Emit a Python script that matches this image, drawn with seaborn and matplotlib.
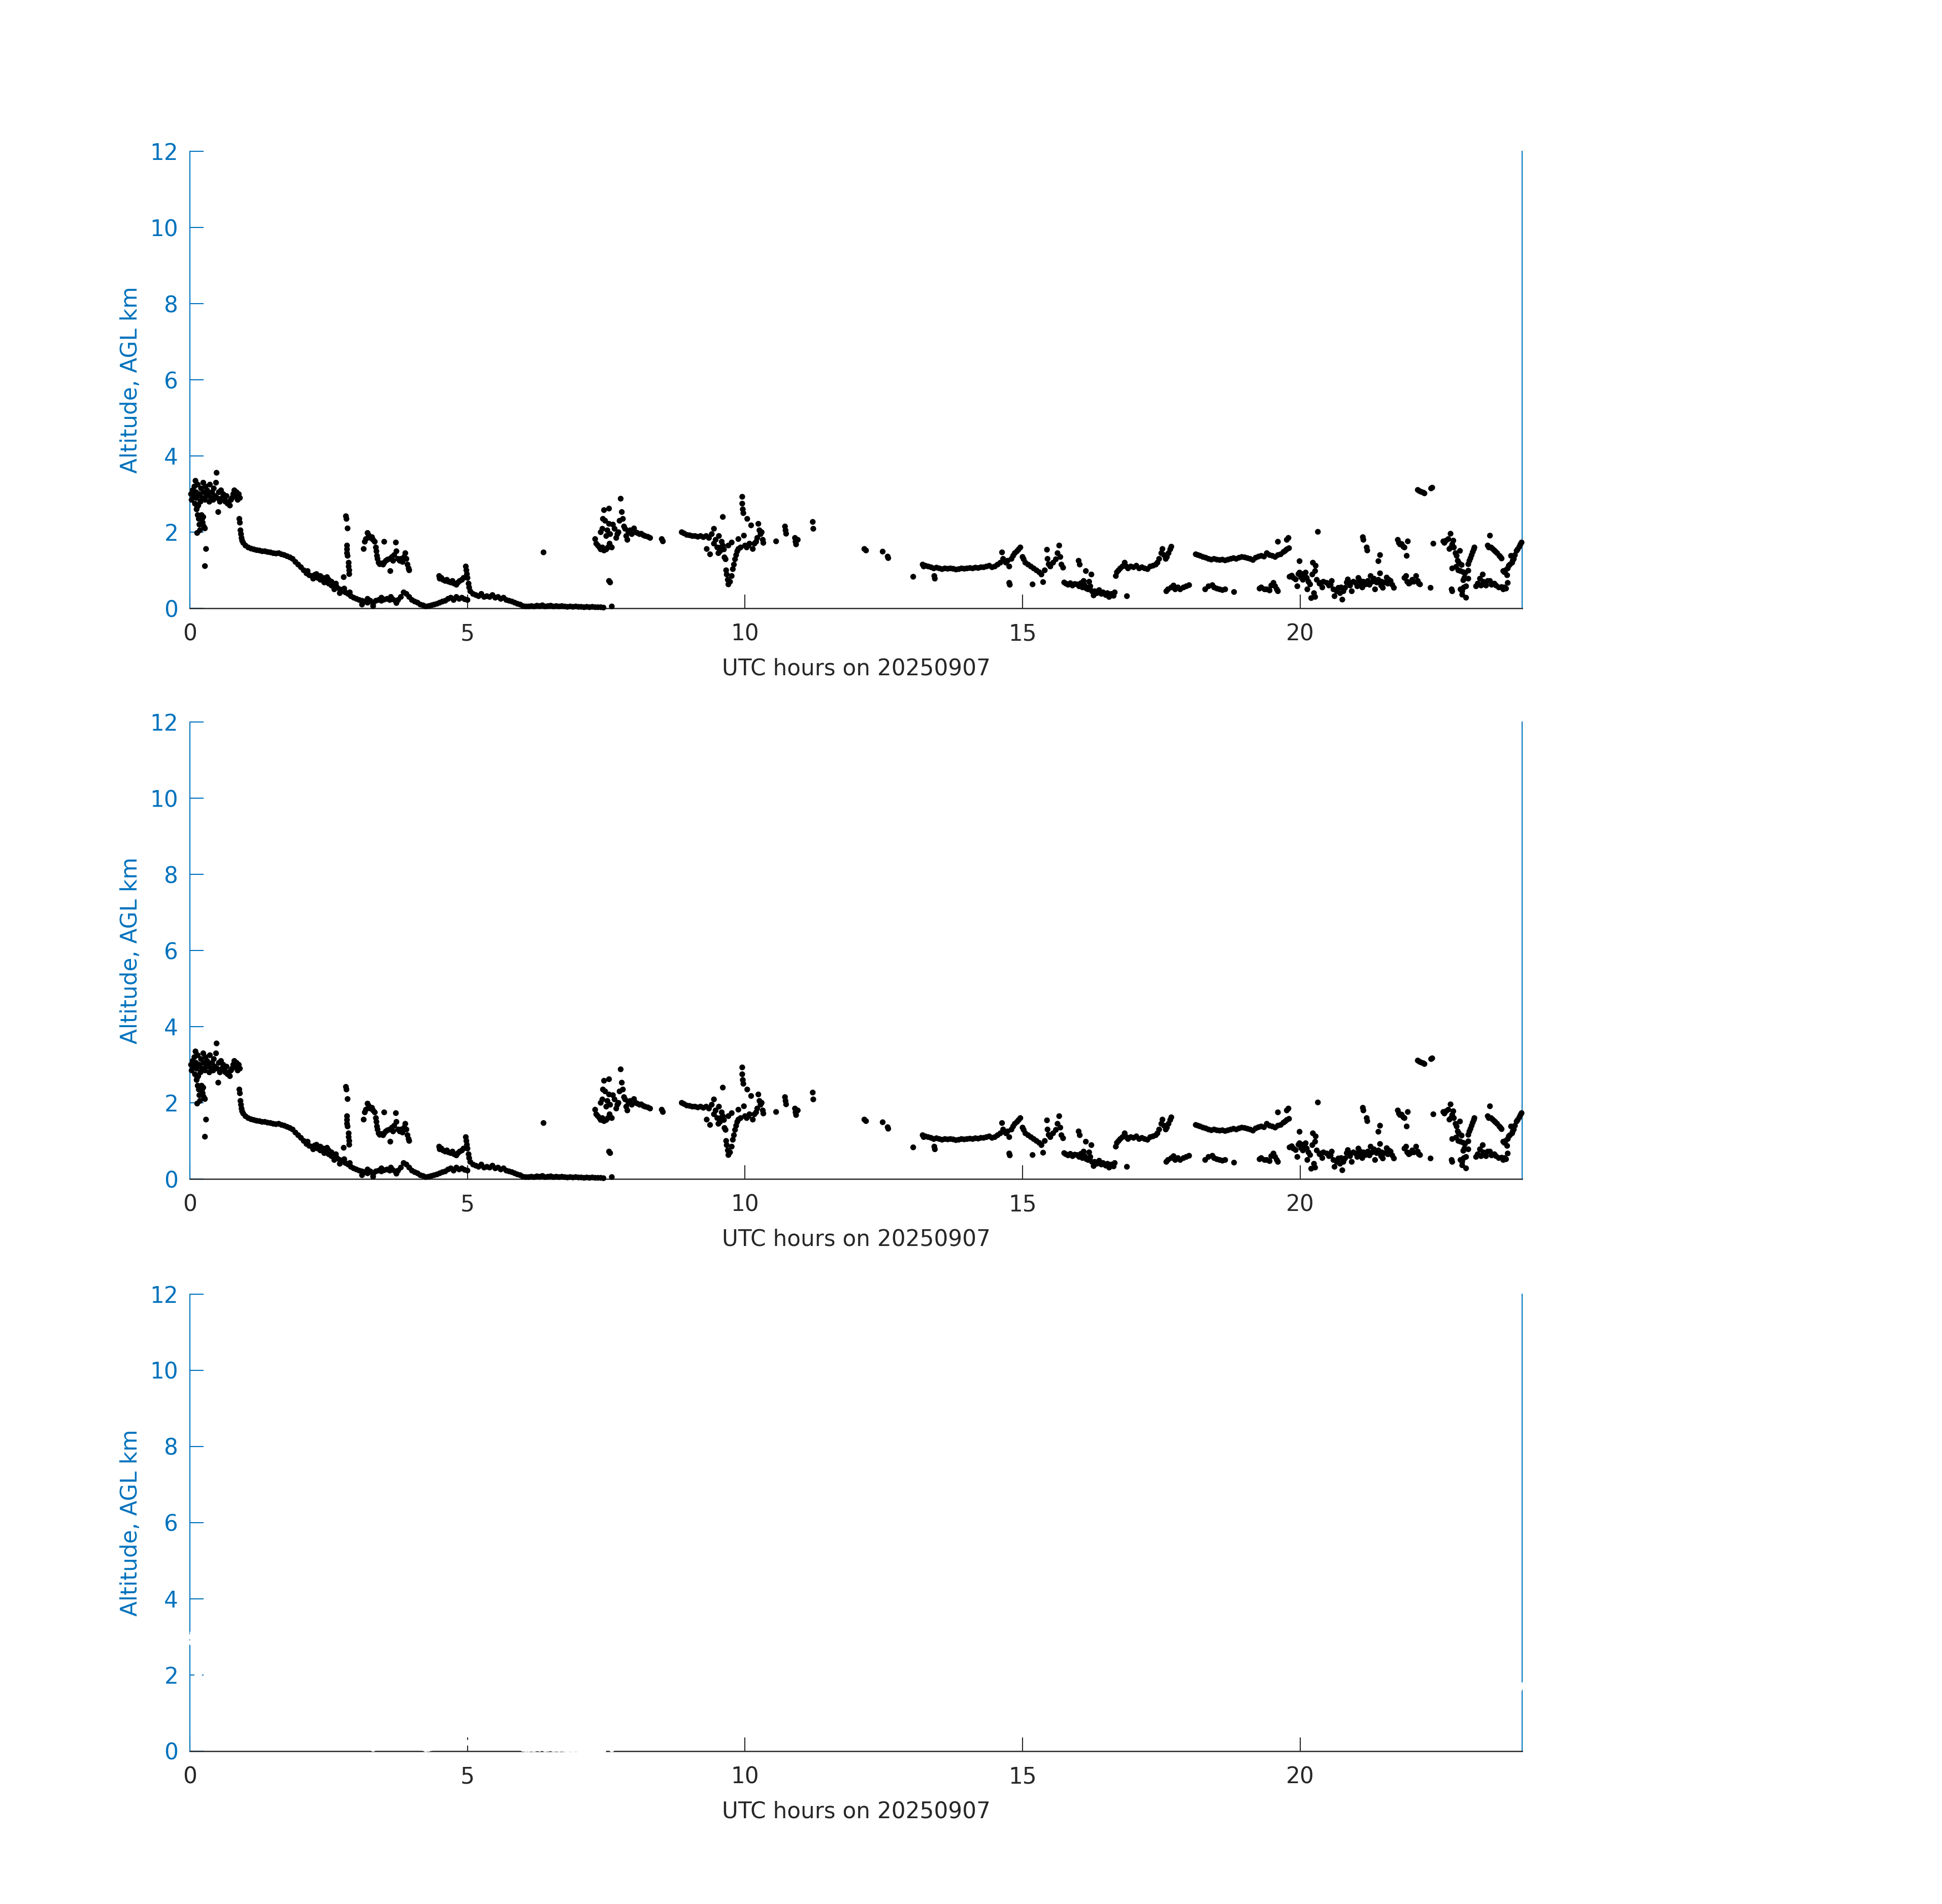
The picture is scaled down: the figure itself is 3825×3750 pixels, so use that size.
import matplotlib
matplotlib.use("Agg")
import matplotlib.pyplot as plt
import seaborn as sns
import pandas as pd

# ---------------- data: (UTC hour, altitude AGL km) ----------------
seg_early = [  # 0 - 1 h residual layer around 3 km
    (0.02, 3.0), (0.03, 2.85), (0.05, 3.1), (0.06, 2.95), (0.08, 3.2), (0.09, 2.75), (0.10, 3.35),
    (0.11, 3.05), (0.12, 2.9), (0.14, 3.25), (0.15, 2.7), (0.17, 3.0), (0.19, 2.8), (0.20, 3.15),
    (0.22, 2.9), (0.24, 3.3), (0.25, 3.05), (0.27, 2.85), (0.28, 3.2), (0.30, 2.95), (0.31, 3.1),
    (0.33, 3.0), (0.35, 2.8), (0.36, 3.25), (0.38, 2.9), (0.40, 3.05), (0.42, 2.85), (0.43, 3.15),
    (0.45, 2.95), (0.47, 3.3), (0.48, 3.56), (0.49, 2.9), (0.51, 2.53), (0.52, 3.05), (0.54, 2.8),
    (0.56, 3.1), (0.58, 2.9), (0.60, 3.0), (0.62, 2.85), (0.64, 2.8), (0.66, 2.95), (0.68, 2.75),
    (0.70, 2.8), (0.72, 2.7), (0.74, 2.85), (0.76, 2.9), (0.78, 3.0), (0.80, 3.1), (0.82, 2.95),
    (0.84, 3.05), (0.86, 2.85), (0.88, 3.0), (0.90, 2.9),
    (0.12, 2.6), (0.13, 2.66), (0.14, 2.45), (0.16, 2.35), (0.17, 2.2), (0.18, 2.05), (0.13, 1.98),
    (0.21, 2.45), (0.22, 2.35), (0.23, 2.25), (0.24, 2.4), (0.25, 2.15), (0.27, 2.1), (0.29, 1.56),
    (0.27, 1.11),
    (0.89, 2.35), (0.90, 2.25), (0.91, 2.05), (0.92, 1.95), (0.93, 1.85), (0.94, 1.78),
]

seg_boundary = [  # main descending layer 1 - 7.6 h
    (0.96, 1.72), (1.00, 1.65), (1.05, 1.6), (1.10, 1.57), (1.15, 1.55), (1.20, 1.53), (1.25, 1.52),
    (1.30, 1.5), (1.35, 1.5), (1.40, 1.48), (1.45, 1.47), (1.50, 1.45), (1.55, 1.44), (1.60, 1.45),
    (1.65, 1.42), (1.70, 1.4), (1.75, 1.37), (1.80, 1.34), (1.85, 1.3), (1.90, 1.22), (1.95, 1.15),
    (2.00, 1.08), (2.05, 1.0), (2.10, 0.92), (2.15, 0.87), (2.20, 0.85), (2.25, 0.88), (2.30, 0.8),
    (2.35, 0.75), (2.40, 0.8), (2.45, 0.72), (2.50, 0.65), (2.55, 0.6), (2.60, 0.58), (2.65, 0.55),
    (2.70, 0.5), (2.75, 0.46), (2.80, 0.42), (2.85, 0.38), (2.90, 0.32), (2.95, 0.28), (3.00, 0.25),
    (3.05, 0.22), (3.10, 0.2), (3.15, 0.18), (3.20, 0.15), (3.25, 0.2), (3.30, 0.12), (3.35, 0.2),
    (3.40, 0.22), (3.45, 0.2), (3.50, 0.23), (3.55, 0.25), (3.60, 0.22), (3.65, 0.24), (3.70, 0.2),
    (3.75, 0.22), (3.80, 0.3), (3.85, 0.42), (3.90, 0.38), (3.95, 0.3), (4.00, 0.22), (4.05, 0.18),
    (4.10, 0.15), (4.15, 0.1), (4.20, 0.08), (4.25, 0.05), (4.30, 0.06), (4.35, 0.08), (4.40, 0.1),
    (4.45, 0.12), (4.50, 0.15), (4.55, 0.18), (4.60, 0.2), (4.65, 0.25), (4.70, 0.28), (4.75, 0.22),
    (4.80, 0.3), (4.85, 0.25), (4.90, 0.28), (4.95, 0.24), (5.00, 0.22),
    (2.28, 0.9), (2.42, 0.68), (2.50, 0.75), (2.60, 0.5), (2.70, 0.4), (2.55, 0.7), (2.35, 0.85),
    (2.12, 0.98), (2.22, 0.78), (2.47, 0.82), (2.63, 0.65), (2.78, 0.52), (2.88, 0.42),
    (3.10, 0.1), (3.20, 0.25), (3.30, 0.06), (3.45, 0.28), (3.62, 0.3), (3.72, 0.14),
    (4.97, 1.1), (4.98, 1.0), (4.99, 0.9), (5.00, 0.8), (5.02, 0.65), (5.03, 0.55),
    (5.05, 0.45), (5.10, 0.38), (5.15, 0.35), (5.20, 0.32), (5.25, 0.38), (5.30, 0.3), (5.35, 0.32),
    (5.40, 0.3), (5.45, 0.35), (5.50, 0.28), (5.55, 0.3), (5.60, 0.25), (5.65, 0.28), (5.70, 0.22),
    (5.75, 0.2), (5.80, 0.18), (5.85, 0.15), (5.90, 0.12), (5.95, 0.1), (6.00, 0.06), (6.05, 0.05),
    (6.10, 0.05), (6.15, 0.06), (6.20, 0.05), (6.25, 0.07), (6.30, 0.06), (6.35, 0.08), (6.40, 0.05),
    (6.45, 0.06), (6.50, 0.07), (6.55, 0.05), (6.60, 0.06), (6.65, 0.05), (6.70, 0.06), (6.75, 0.05),
    (6.80, 0.04), (6.85, 0.05), (6.90, 0.04), (6.95, 0.05), (7.00, 0.04), (7.05, 0.04), (7.10, 0.03),
    (7.15, 0.04), (7.20, 0.03), (7.25, 0.04), (7.30, 0.03), (7.35, 0.03), (7.40, 0.03), (7.45, 0.02),
    (7.60, 0.05),
]

seg_residual = [  # upper fragments 2.8 - 5 h, and the lone point at 6.4 h
    (2.81, 2.42), (2.82, 2.35), (2.84, 2.1), (2.83, 1.65), (2.83, 1.55), (2.83, 1.45), (2.84, 1.38),
    (2.86, 1.2), (2.86, 1.1), (2.87, 1.0), (2.87, 0.9), (2.77, 0.82),
    (3.13, 1.56), (3.15, 1.75), (3.17, 1.82), (3.20, 1.98), (3.22, 1.92), (3.25, 1.85), (3.28, 1.87),
    (3.30, 1.8), (3.33, 1.75), (3.35, 1.6), (3.36, 1.5), (3.37, 1.38), (3.38, 1.3), (3.40, 1.2),
    (3.42, 1.16), (3.45, 1.18), (3.48, 1.15), (3.50, 1.2), (3.50, 1.75), (3.53, 1.25), (3.56, 1.28),
    (3.60, 1.3), (3.61, 0.98), (3.64, 1.35), (3.66, 1.25), (3.68, 1.4), (3.71, 1.73), (3.72, 1.5),
    (3.75, 1.3), (3.78, 1.25), (3.80, 1.3), (3.83, 1.22), (3.86, 1.35), (3.88, 1.45), (3.90, 1.3),
    (3.92, 1.15), (3.94, 1.05), (3.95, 1.0),
    (4.49, 0.85), (4.50, 0.78), (4.53, 0.8), (4.56, 0.75), (4.60, 0.72), (4.63, 0.75), (4.66, 0.7),
    (4.70, 0.68), (4.73, 0.72), (4.76, 0.65), (4.80, 0.62), (4.83, 0.68), (4.86, 0.72), (4.90, 0.75),
    (4.93, 0.8), (6.37, 1.47),
]

seg_morning = [  # 7.3 - 13 h
    (7.30, 1.82), (7.32, 1.7), (7.35, 1.65), (7.38, 1.6), (7.40, 1.55), (7.43, 1.6), (7.46, 1.52),
    (7.50, 1.55), (7.53, 1.6), (7.56, 1.7), (7.58, 1.62), (7.60, 1.6), (7.46, 2.58), (7.55, 2.62),
    (7.44, 2.35), (7.48, 2.3), (7.55, 2.22), (7.43, 2.09), (7.40, 2.0), (7.50, 1.9), (7.52, 2.05),
    (7.57, 1.95), (7.62, 2.2), (7.65, 2.09), (7.68, 1.85), (7.70, 1.95), (7.72, 2.0), (7.74, 2.3),
    (7.76, 2.88), (7.78, 2.53), (7.80, 2.35), (7.82, 2.15), (7.84, 2.09), (7.86, 1.9), (7.88, 1.8),
    (7.90, 2.0), (7.93, 2.05), (7.96, 1.95), (8.00, 2.1), (8.03, 2.0), (8.06, 1.98), (8.10, 1.95),
    (8.13, 1.96), (8.17, 1.92), (8.20, 1.9), (8.25, 1.88), (8.29, 1.85), (8.50, 1.82), (8.52, 1.76),
    (7.55, 0.72), (7.57, 0.68),
    (8.86, 2.0), (8.90, 1.97), (8.95, 1.93), (9.00, 1.92), (9.05, 1.9), (9.10, 1.9), (9.15, 1.88),
    (9.20, 1.9), (9.25, 1.87), (9.30, 1.9), (9.35, 1.85), (9.40, 1.95), (9.44, 2.09), (9.31, 1.56),
    (9.37, 1.42), (9.60, 2.4), (9.44, 1.7), (9.47, 1.8), (9.50, 1.6), (9.52, 1.45), (9.55, 1.5),
    (9.58, 1.75), (9.60, 1.65), (9.63, 1.34), (9.65, 1.29), (9.66, 1.0), (9.67, 0.89), (9.69, 0.75),
    (9.70, 0.63), (9.73, 0.7), (9.76, 0.85), (9.78, 1.03), (9.80, 1.15), (9.82, 1.29), (9.84, 1.4),
    (9.86, 1.5), (9.88, 1.56), (9.76, 1.73), (9.88, 1.82), (9.92, 1.6), (9.95, 2.93), (9.95, 2.75),
    (9.96, 2.6), (9.97, 2.5), (9.98, 1.91), (10.00, 1.65), (10.03, 1.6), (10.04, 2.35), (10.06, 1.65),
    (10.08, 1.7), (10.11, 2.18), (10.14, 1.56), (10.17, 1.7), (10.20, 1.75), (10.22, 1.85),
    (10.24, 2.22), (10.26, 2.05), (10.28, 1.95), (10.30, 2.0), (10.32, 1.8), (10.33, 1.72),
    (9.53, 1.9), (9.56, 1.6), (9.62, 1.55), (9.70, 1.65),
    (10.56, 1.76), (10.72, 2.15), (10.73, 2.05), (10.74, 1.96), (10.90, 1.85), (10.91, 1.75),
    (10.92, 1.68), (10.95, 1.8), (11.22, 2.27), (11.23, 2.09),
    (12.15, 1.56), (12.18, 1.52), (12.48, 1.49), (12.57, 1.36), (12.58, 1.32), (13.03, 0.83),
]

seg_afternoon = [  # 13.2 - 17.7 h
    (13.20, 1.15), (13.22, 1.1), (13.25, 1.12), (13.30, 1.1), (13.35, 1.08), (13.40, 1.05),
    (13.41, 0.85), (13.42, 0.78), (13.45, 1.07), (13.50, 1.05), (13.55, 1.03), (13.60, 1.05),
    (13.65, 1.04), (13.70, 1.05), (13.75, 1.04), (13.80, 1.02), (13.85, 1.03), (13.90, 1.05),
    (13.95, 1.04), (14.00, 1.05), (14.05, 1.06), (14.10, 1.05), (14.15, 1.07), (14.20, 1.06),
    (14.25, 1.08), (14.30, 1.08), (14.35, 1.1), (14.40, 1.12), (14.45, 1.08), (14.50, 1.1),
    (14.55, 1.15), (14.60, 1.2), (14.63, 1.47), (14.65, 1.3), (14.70, 1.2), (14.73, 1.25),
    (14.76, 1.1), (14.76, 0.67), (14.77, 0.62), (14.80, 1.3), (14.83, 1.38), (14.86, 1.45),
    (14.90, 1.5), (14.93, 1.55), (14.96, 1.6), (15.00, 1.35), (15.02, 1.29), (15.05, 1.2),
    (15.10, 1.15), (15.15, 1.1), (15.18, 0.63), (15.20, 1.05), (15.25, 1.0), (15.30, 0.95),
    (15.34, 0.89), (15.37, 0.69), (15.40, 1.0), (15.44, 1.54), (15.45, 1.3), (15.47, 1.16),
    (15.50, 1.1), (15.55, 1.2), (15.60, 1.29), (15.63, 1.45), (15.66, 1.65), (15.68, 1.35),
    (15.70, 1.15), (15.73, 1.07),
    (15.75, 0.68), (15.78, 0.65), (15.82, 0.62), (15.86, 0.66), (15.90, 0.6), (15.94, 0.64),
    (15.98, 0.63), (16.02, 0.58), (16.05, 0.66), (16.08, 0.55), (16.12, 0.6), (16.15, 0.52),
    (16.18, 0.5), (16.22, 0.58), (16.25, 0.45), (16.28, 0.34), (16.30, 0.45), (16.34, 0.4),
    (16.38, 0.48), (16.42, 0.38), (16.45, 0.42), (16.50, 0.35), (16.53, 0.4), (16.56, 0.3),
    (16.60, 0.38), (16.64, 0.33), (16.66, 0.42), (16.88, 0.32), (16.01, 1.25), (16.03, 1.15),
    (16.14, 0.98), (16.24, 0.89), (16.20, 0.7), (16.10, 0.72),
    (16.68, 0.85), (16.70, 0.95), (16.73, 1.0), (16.76, 1.05), (16.80, 1.1), (16.84, 1.2),
    (16.87, 1.1), (16.90, 1.05), (16.95, 1.1), (17.00, 1.08), (17.05, 1.12), (17.10, 1.05),
    (17.15, 1.08), (17.20, 1.05), (17.25, 1.03), (17.30, 1.1), (17.35, 1.12), (17.40, 1.15),
    (17.43, 1.2), (17.46, 1.3), (17.50, 1.45), (17.52, 1.56), (17.55, 1.4), (17.58, 1.3),
    (17.60, 1.35), (17.63, 1.45), (17.66, 1.55), (17.68, 1.62),
]

seg_evening = [  # 17.6 - 20 h
    (17.59, 0.45), (17.62, 0.5), (17.68, 0.55), (17.72, 0.6), (17.75, 0.5), (17.80, 0.55),
    (17.84, 0.5), (17.90, 0.55), (17.95, 0.58), (18.00, 0.61), (18.29, 0.5), (18.35, 0.58),
    (18.42, 0.61), (18.45, 0.55), (18.50, 0.52), (18.55, 0.5), (18.60, 0.48), (18.65, 0.5),
    (18.81, 0.43), (19.27, 0.52), (19.30, 0.55), (19.36, 0.5), (19.40, 0.5), (19.45, 0.47),
    (19.48, 0.6), (19.52, 0.67), (19.55, 0.58), (19.58, 0.5), (19.60, 0.45),
    (18.12, 1.42), (18.16, 1.4), (18.20, 1.38), (18.25, 1.35), (18.30, 1.33), (18.35, 1.3),
    (18.40, 1.28), (18.45, 1.3), (18.50, 1.28), (18.55, 1.27), (18.60, 1.28), (18.65, 1.26),
    (18.70, 1.28), (18.75, 1.3), (18.80, 1.32), (18.85, 1.3), (18.90, 1.33), (18.95, 1.35),
    (19.00, 1.34), (19.05, 1.32), (19.10, 1.3), (19.15, 1.27), (19.20, 1.33), (19.25, 1.36),
    (19.30, 1.38), (19.35, 1.36), (19.40, 1.45), (19.45, 1.4), (19.50, 1.38), (19.55, 1.35),
    (19.60, 1.4), (19.65, 1.42), (19.70, 1.48), (19.73, 1.51), (19.76, 1.55), (19.80, 1.58),
    (19.60, 1.75), (19.76, 1.8), (19.79, 1.85),
]

seg_night = [  # 19.8 - 24 h
    (19.81, 0.83), (19.85, 0.86), (19.88, 0.8), (19.92, 0.76), (19.95, 0.58), (19.97, 0.9),
    (19.99, 0.94), (20.02, 0.81), (20.05, 0.75), (20.08, 0.88), (20.10, 0.94), (20.13, 0.5),
    (20.15, 0.7), (20.18, 0.63), (20.20, 0.27), (20.22, 0.89), (20.23, 1.2), (20.25, 0.4),
    (20.27, 0.98), (20.28, 1.12), (20.27, 0.3), (20.30, 0.75), (20.35, 0.65), (20.37, 0.67),
    (20.42, 0.7), (20.48, 0.67), (20.52, 0.6), (20.57, 0.72), (20.60, 0.5), (20.62, 0.32),
    (20.66, 0.45), (20.69, 0.54), (20.72, 0.4), (20.76, 0.23), (20.78, 0.45), (20.81, 0.54),
    (20.84, 0.68), (20.86, 0.76), (20.90, 0.6), (20.93, 0.45), (20.96, 0.7), (21.00, 0.67),
    (21.03, 0.58), (21.07, 0.74), (21.10, 0.65), (21.14, 0.7), (21.18, 0.63), (21.22, 0.72),
    (21.27, 0.85), (21.30, 0.7), (21.35, 0.5), (21.38, 0.68), (21.41, 0.75), (21.44, 0.92),
    (21.47, 0.7), (21.49, 0.54), (21.52, 0.68), (21.56, 0.81), (21.60, 0.75), (21.63, 0.72),
    (21.66, 0.62), (21.69, 0.54), (20.32, 2.01), (19.99, 1.24),
    (20.05, 0.9), (20.12, 0.8), (20.40, 0.55), (20.55, 0.62), (20.74, 0.55), (20.88, 0.68),
    (21.05, 0.8), (21.12, 0.55), (21.25, 0.62), (21.33, 0.78), (21.46, 0.6), (21.58, 0.65),
    (21.13, 1.87), (21.14, 1.8), (21.20, 1.6), (21.21, 1.52), (21.41, 1.24), (21.44, 1.4),
    (21.76, 1.8), (21.78, 1.72), (21.80, 1.68), (21.83, 1.69), (21.86, 1.62), (21.88, 1.6),
    (21.94, 1.76), (21.92, 1.38),
    (21.88, 0.8), (21.91, 0.85), (21.93, 0.7), (21.96, 0.65), (21.98, 0.67), (22.02, 0.75),
    (22.05, 0.7), (22.09, 0.85), (22.12, 0.72), (22.14, 0.65), (22.16, 0.63), (22.35, 0.54),
    (22.40, 1.7),
    (22.12, 3.11), (22.15, 3.08), (22.18, 3.06), (22.22, 3.04), (22.24, 3.02), (22.36, 3.15),
    (22.38, 3.17),
    (22.58, 1.76), (22.60, 1.72), (22.63, 1.78), (22.67, 1.82), (22.71, 1.96), (22.74, 1.68),
    (22.76, 1.78), (22.69, 1.56), (22.72, 1.6), (22.77, 1.6), (22.80, 1.45), (22.82, 1.38),
    (22.84, 1.25), (22.86, 1.2), (22.88, 1.51), (22.74, 1.05), (22.81, 1.09), (22.85, 1.0),
    (22.89, 0.98), (22.91, 1.14), (22.94, 0.95), (22.97, 0.92), (23.03, 0.99), (22.94, 0.74),
    (22.96, 0.8), (23.03, 0.78), (22.89, 0.5), (22.92, 0.45), (22.95, 0.55), (22.99, 0.58),
    (22.92, 0.36), (22.99, 0.28), (22.73, 0.5), (22.74, 0.45),
    (23.03, 1.16), (23.05, 1.25), (23.07, 1.32), (23.09, 1.4), (23.11, 1.48), (23.13, 1.55),
    (23.14, 1.6),
    (23.17, 0.58), (23.20, 0.65), (23.24, 0.78), (23.26, 0.6), (23.29, 0.89), (23.30, 0.7),
    (23.32, 0.67), (23.35, 0.6), (23.38, 0.72), (23.42, 0.72), (23.45, 0.62), (23.50, 0.65),
    (23.53, 0.6), (23.58, 0.55), (23.63, 0.56), (23.66, 0.5), (23.71, 0.52), (23.74, 0.67),
    (23.68, 0.55),
    (23.42, 1.91), (23.38, 1.65), (23.40, 1.6), (23.44, 1.6), (23.47, 1.56), (23.50, 1.52),
    (23.52, 1.49), (23.55, 1.45), (23.59, 1.38), (23.61, 1.35), (23.63, 1.31),
    (23.66, 0.98), (23.68, 0.95), (23.70, 1.0), (23.73, 0.87), (23.74, 1.05), (23.76, 1.12),
    (23.78, 1.15), (23.80, 1.38), (23.82, 1.2), (23.83, 1.25), (23.85, 1.3), (23.87, 1.4),
    (23.90, 1.51), (23.92, 1.55), (23.95, 1.62), (23.97, 1.68), (23.99, 1.73),
]

x_ticks = [0, 5, 10, 15, 20]
y_ticks = [0, 2, 4, 6, 8, 10, 12]
x_label = "UTC hours on 20250907"
y_label = "Altitude, AGL km"
panel_colors = ["black", "black", "white"]

# ---------------- build table ----------------
all_pts = (seg_early + seg_boundary + seg_residual + seg_morning + seg_afternoon
           + seg_evening + seg_night)
df = pd.DataFrame(all_pts, columns=["hour", "km"])

# ---------------- style ----------------
sns.set_style("white")
plt.rcParams["font.family"] = ["DejaVu Sans"]
plt.rcParams["font.size"] = 10.5

BLUE = "#0072BD"
DARK = "#262626"

fig = plt.figure(figsize=(12.75, 12.5), dpi=300)
left, width, height = 0.0978, 0.6860, 0.24
bottoms = [0.6805, 0.3808, 0.0803]

for bottom, col in zip(bottoms, panel_colors):
    ax = fig.add_axes([left, bottom, width, height])
    sns.scatterplot(data=df, x="hour", y="km", ax=ax, color=col, s=7.5,
                    linewidth=0, edgecolor="none", zorder=3, clip_on=False, legend=False)
    ax.set_xlim(0, 24)
    ax.set_ylim(0, 12)
    ax.set_xticks(x_ticks)
    ax.set_yticks(y_ticks)
    ax.set_xticklabels([str(t) for t in x_ticks])
    ax.set_yticklabels([str(t) for t in y_ticks])
    ax.spines["top"].set_visible(False)
    for s in ("left", "right"):
        ax.spines[s].set_color(BLUE)
        ax.spines[s].set_linewidth(0.5)
        ax.spines[s].set_zorder(2.4)
    ax.spines["bottom"].set_color(DARK)
    ax.spines["bottom"].set_linewidth(0.6)
    ax.spines["bottom"].set_zorder(2.4)
    ax.tick_params(axis="y", which="both", left=True, right=False, direction="in",
                   length=6.5, width=0.5, color=BLUE, labelcolor=BLUE, pad=5.5,
                   labelsize=10.5)
    ax.tick_params(axis="x", which="both", bottom=True, top=False, direction="in",
                   length=6.5, width=0.5, color=DARK, labelcolor=DARK, pad=7,
                   labelsize=10.5)
    ax.set_xlabel(x_label, color=DARK, fontsize=10.5, labelpad=6)
    ax.set_ylabel(y_label, color=BLUE, fontsize=10.5, labelpad=4)
    ax.set_facecolor("white")

fig.savefig("out.png", dpi=300, facecolor="white")
